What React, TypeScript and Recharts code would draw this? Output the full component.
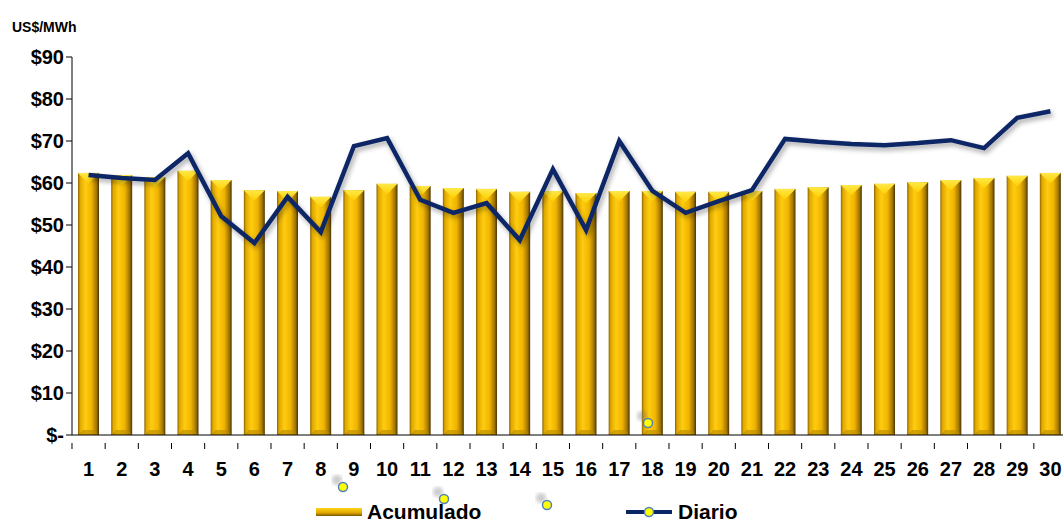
import React from "react";
import {
  ComposedChart,
  Bar,
  Line,
  XAxis,
  YAxis,
} from "recharts";

const days = [
  1, 2, 3, 4, 5, 6, 7, 8, 9, 10, 11, 12, 13, 14, 15, 16, 17, 18, 19, 20, 21,
  22, 23, 24, 25, 26, 27, 28, 29, 30,
];

const acumulado = [
  62.4, 61.9, 61.4, 62.9, 60.7, 58.3, 58.1, 56.7, 58.3, 59.8, 59.3, 58.8, 58.6,
  57.9, 58.1, 57.6, 58.1, 58.1, 57.9, 57.9, 58.1, 58.6, 59.0, 59.5, 59.8, 60.2,
  60.7, 61.2, 61.7, 62.4,
];

const diario = [
  61.9, 61.2, 60.7, 67.1, 52.1, 45.7, 56.7, 48.3, 68.8, 70.7, 56.0, 52.9, 55.2,
  46.4, 63.3, 48.8, 70.0, 58.1, 52.9, 55.7, 58.3, 70.5, 69.8, 69.3, 69.0, 69.5,
  70.2, 68.3, 75.5, 77.1,
];

const yTicks = [0, 10, 20, 30, 40, 50, 60, 70, 80, 90];

const data = days.map((d, i) => ({
  day: String(d),
  acumulado: acumulado[i],
  diario: diario[i],
}));

const font = "'Liberation Sans', Arial, sans-serif";
const NAVY = "#0b2566";

// gold bar with bevelled top, like the excel 3d style
function GoldBar(props: any) {
  const { x, y, width, height } = props;
  if (!height || height <= 0) return null;
  const b = width / 2;
  return (
    <g>
      <rect x={x} y={y} width={width} height={height} fill="url(#goldBody)" />
      <polygon
        points={`${x},${y} ${x + width},${y} ${x + b},${y + b}`}
        fill="url(#goldTop)"
      />
      <polygon
        points={`${x},${y + height} ${x + width},${y + height} ${x + width - 5},${y + height - 5} ${x + 5},${y + height - 5}`}
        fill="#b88a00"
        opacity={0.6}
      />
    </g>
  );
}

function DayTick(props: any) {
  const { x, y, payload, index } = props;
  const half = 33.17 / 2;
  return (
    <g>
      <line x1={x - half} y1={y} x2={x - half} y2={y + 6} stroke="#000" />
      {index === days.length - 1 && (
        <line x1={x + half} y1={y} x2={x + half} y2={y + 6} stroke="#000" />
      )}
      <text
        x={x}
        y={y + 33}
        textAnchor="middle"
        fontFamily={font}
        fontWeight="bold"
        fontSize={20}
        fill="#000"
      >
        {payload.value}
      </text>
    </g>
  );
}

const strayDots = [
  { left: 343, top: 487 },
  { left: 444, top: 499 },
  { left: 547, top: 505 },
  { left: 648, top: 423 },
];

export default function App() {
  return (
    <div
      style={{
        position: "absolute",
        left: 0,
        top: 0,
        width: 1063,
        height: 523,
        overflow: "hidden",
        background: "#fff",
        fontFamily: font,
      }}
    >
      <div
        style={{
          position: "absolute",
          left: 12,
          top: 19,
          fontSize: 14,
          fontWeight: "bold",
        }}
      >
        US$/MWh
      </div>
      <ComposedChart
        width={1067}
        height={523}
        data={data}
        margin={{ top: 57, right: 0, bottom: 48, left: 0 }}
      >
        <defs>
          <linearGradient id="goldBody" x1="0" y1="0" x2="1" y2="0">
            <stop offset="0%" stopColor="#8a6400" />
            <stop offset="10%" stopColor="#e0a800" />
            <stop offset="35%" stopColor="#ffcc10" />
            <stop offset="65%" stopColor="#f0b400" />
            <stop offset="88%" stopColor="#a07400" />
            <stop offset="100%" stopColor="#4a3400" />
          </linearGradient>
          <linearGradient id="goldTop" x1="0" y1="0" x2="0" y2="1">
            <stop offset="0%" stopColor="#ffe84a" />
            <stop offset="100%" stopColor="#ffd000" />
          </linearGradient>
          <filter id="lineShadow" x="-5%" y="-20%" width="110%" height="140%">
            <feDropShadow dx="2" dy="3" stdDeviation="2.5" floodColor="#000" floodOpacity="0.35" />
          </filter>
        </defs>
        <XAxis
          dataKey="day"
          height={40}
          axisLine={{ stroke: "#000" }}
          tickLine={false}
          tick={<DayTick />}
          interval={0}
        />
        <YAxis
          domain={[0, 90]}
          ticks={yTicks}
          width={72}
          axisLine={{ stroke: "#000" }}
          tickLine={{ stroke: "#000" }}
          tickSize={6}
          tickFormatter={(v: number) => (v === 0 ? "$-" : `$${v}`)}
          tick={{
            fill: "#000",
            fontSize: 20,
            fontWeight: "bold",
            fontFamily: font,
          }}
        />
        <Bar
          dataKey="acumulado"
          barSize={21}
          shape={<GoldBar />}
          isAnimationActive={false}
        />
        <Line
          dataKey="diario"
          type="linear"
          stroke={NAVY}
          strokeWidth={4.5}
          dot={false}
          activeDot={false}
          filter="url(#lineShadow)"
          isAnimationActive={false}
        />
      </ComposedChart>

      {strayDots.map((d, i) => (
        <svg
          key={i}
          width={24}
          height={24}
          style={{ position: "absolute", left: d.left - 15, top: d.top - 15 }}
        >
          <defs>
            <filter id={`blur${i}`}>
              <feGaussianBlur stdDeviation="2" />
            </filter>
          </defs>
          <circle cx={9} cy={8} r={5} fill="#777" opacity={0.4} filter={`url(#blur${i})`} />
          <circle cx={15} cy={15} r={4.5} fill="#ffff00" stroke="#4f81bd" strokeWidth={1.5} />
        </svg>
      ))}

      <div
        style={{
          position: "absolute",
          left: 316,
          top: 500,
          display: "flex",
          alignItems: "center",
          fontSize: 21,
          fontWeight: "bold",
        }}
      >
        <svg width={46} height={12}>
          <rect x={0} y={2} width={46} height={8} fill="url(#legendGold)" />
          <defs>
            <linearGradient id="legendGold" x1="0" y1="0" x2="0" y2="1">
              <stop offset="0%" stopColor="#ffd21a" />
              <stop offset="60%" stopColor="#e0a800" />
              <stop offset="100%" stopColor="#7a5600" />
            </linearGradient>
          </defs>
        </svg>
        <span style={{ marginLeft: 5 }}>Acumulado</span>
      </div>
      <div
        style={{
          position: "absolute",
          left: 626,
          top: 500,
          display: "flex",
          alignItems: "center",
          fontSize: 21,
          fontWeight: "bold",
        }}
      >
        <svg width={46} height={12}>
          <line x1={0} y1={6} x2={46} y2={6} stroke={NAVY} strokeWidth={4} />
          <circle cx={23} cy={6} r={4.5} fill="#ffff00" stroke="#4f81bd" strokeWidth={1.5} />
        </svg>
        <span style={{ marginLeft: 6 }}>Diario</span>
      </div>
    </div>
  );
}
